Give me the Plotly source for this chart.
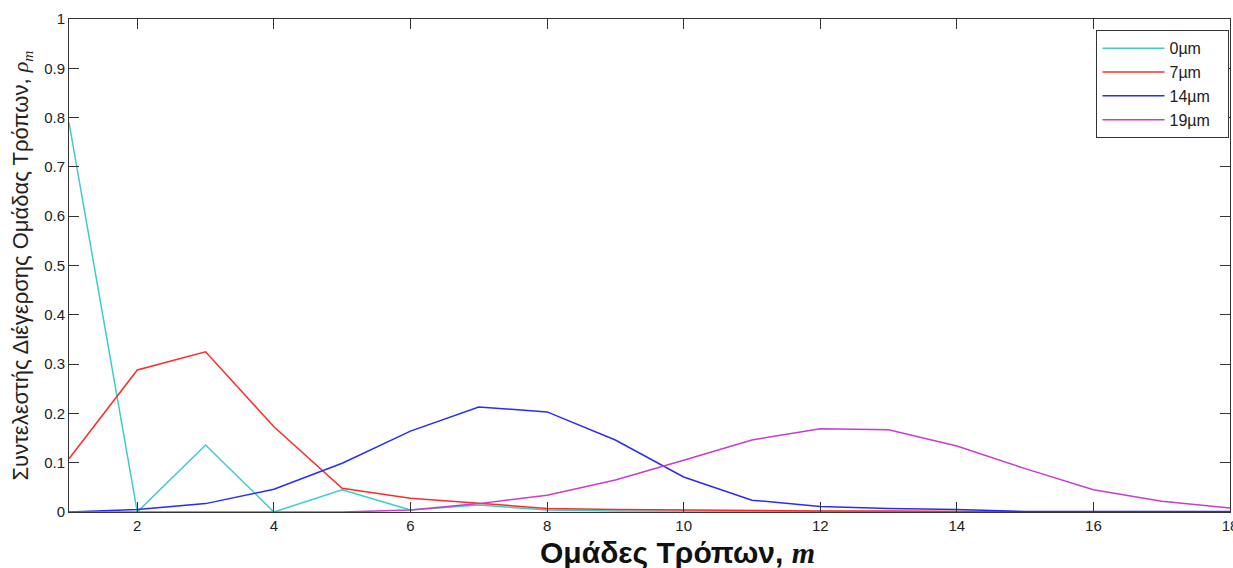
import plotly.graph_objects as go

m = list(range(1, 19))

rho_0um = [0.79, 0.0, 0.136, 0.0, 0.045, 0.004, 0.014, 0.004, 0.002, 0.002, 0.001, 0.001, 0.001, 0.0, 0.0, 0.0, 0.0, 0.0]
rho_7um = [0.108, 0.288, 0.325, 0.173, 0.048, 0.028, 0.018, 0.007, 0.005, 0.004, 0.002, 0.002, 0.002, 0.001, 0.0, 0.0, 0.0, 0.0]
rho_14um = [0.0, 0.005, 0.017, 0.046, 0.099, 0.164, 0.213, 0.203, 0.146, 0.071, 0.024, 0.011, 0.007, 0.005, 0.001, 0.001, 0.001, 0.001]
rho_19um = [0.0, 0.0, 0.0, 0.0, 0.0, 0.004, 0.017, 0.034, 0.065, 0.105, 0.146, 0.169, 0.167, 0.134, 0.088, 0.045, 0.022, 0.008]

series_names = ["0\u00b5m", "7\u00b5m", "14\u00b5m", "19\u00b5m"]
series_values = [rho_0um, rho_7um, rho_14um, rho_19um]
series_colors = ["#3ecccc", "#ff2a2a", "#2a2aff", "#c83cd0"]

x_ticks = [2, 4, 6, 8, 10, 12, 14, 16, 18]
y_ticks = [0, 0.1, 0.2, 0.3, 0.4, 0.5, 0.6, 0.7, 0.8, 0.9, 1]
y_tick_text = ["0", "0.1", "0.2", "0.3", "0.4", "0.5", "0.6", "0.7", "0.8", "0.9", "1"]

fig = go.Figure()
for i, (name, vals, col) in enumerate(zip(series_names, series_values, series_colors)):
    fig.add_trace(go.Scatter(
        x=m, y=vals, mode="lines", name=name + "\u00a0" * 3,
        line=dict(color=col, width=1.5),
        legendgroup=f"g{i}",
    ))

axis_common = dict(
    showgrid=False, zeroline=False, showline=True, linecolor="#333333", linewidth=1,
    mirror="ticks", ticks="inside", ticklen=10, tickcolor="#333333", tickwidth=1,
    tickfont=dict(family="Liberation Sans, Arial", size=15, color="#222222"),
    automargin=False,
)

fig.update_xaxes(range=[1, 18], tickvals=x_ticks, ticklabeloverflow="allow", **axis_common)
fig.update_yaxes(range=[0, 1], tickvals=y_ticks, ticktext=y_tick_text, **axis_common)

fig.update_layout(
    width=1233, height=568,
    margin=dict(l=69, r=3, t=19, b=56, autoexpand=False),
    paper_bgcolor="white", plot_bgcolor="white",
    showlegend=True,
    legend=dict(
        x=0.885, y=0.977, xanchor="left", yanchor="top",
        bordercolor="#333333", borderwidth=1, bgcolor="white",
        font=dict(family="Liberation Sans, Arial", size=16, color="#222222"),
        tracegroupgap=0, itemwidth=62,
    ),
    annotations=[
        dict(
            text="Ομάδες Τρόπων, <span style=\"font-family:'Liberation Serif'\"><i>m</i></span>",
            xref="paper", yref="paper", x=(677 - 69) / 1161, y=-0.082,
            xanchor="center", yanchor="middle", showarrow=False,
            font=dict(family="Liberation Sans, Arial", size=30, color="#111111", weight="bold"),
        ),
        dict(
            text="Συντελεστής Διέγερσης Ομάδας Τρόπων, <span style=\"font-family:'Liberation Serif'\"><i>ρ<sub>m</sub></i></span>",
            xref="paper", yref="paper", x=-0.0405, y=0.5,
            xanchor="center", yanchor="middle", showarrow=False, textangle=-90,
            font=dict(family="Liberation Sans, Arial", size=22, color="#222222"),
        ),
    ],
)

fig.write_html("out.html")
